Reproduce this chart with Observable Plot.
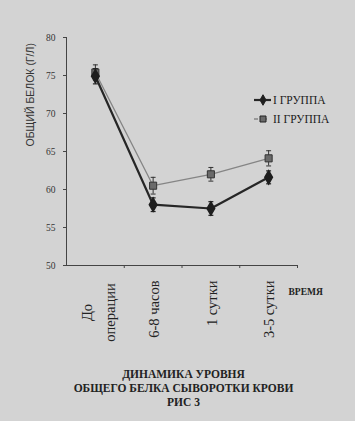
<!DOCTYPE html>
<html>
<head>
<meta charset="utf-8">
<script src="https://cdn.jsdelivr.net/npm/d3@7"></script>
<script src="https://cdn.jsdelivr.net/npm/@observablehq/plot@0.6"></script>
<style>
  html, body { margin: 0; padding: 0; }
  body { width: 355px; height: 421px; background: #d3d3d3; position: relative; overflow: hidden; }
  #chart svg { display: block; background: transparent; }
  #legend { position: absolute; left: 250px; top: 90px; }
  #caption { font-family: "Liberation Serif", serif; font-weight: bold; font-size: 11.5px; line-height: 14px; color: #222; text-align: center; margin-top: 7px; padding-left: 12px; }
</style>
</head>
<body>
<div id="chart"></div>
<div id="legend"></div>
<div id="caption"></div>
<script>
const categories = ["До\nоперации", "6-8 часов", "1 сутки", "3-5 сутки"];
const group1Name = "I ГРУППА";
const group2Name = "II ГРУППА";
const group1Values = [74.9, 58.0, 57.5, 61.6];
const group1Errors = [1.0, 0.9, 0.9, 0.85];
const group2Values = [75.4, 60.5, 62.0, 64.1];
const group2Errors = [1.0, 1.1, 0.9, 1.0];
const yTicks = [50, 55, 60, 65, 70, 75, 80];
const yLabel = "ОБЩИЙ БЕЛОК (Г/Л)";
const xLabel = "ВРЕМЯ";
const captionLines = ["ДИНАМИКА УРОВНЯ", "ОБЩЕГО БЕЛКА СЫВОРОТКИ КРОВИ", "РИС 3"];

const rows = [];
categories.forEach((c, i) => {
  rows.push({i, cat: c, group: group1Name, v: group1Values[i], e: group1Errors[i]});
});
categories.forEach((c, i) => {
  rows.push({i, cat: c, group: group2Name, v: group2Values[i], e: group2Errors[i]});
});
const g1 = rows.filter(d => d.group === group1Name);
const g2 = rows.filter(d => d.group === group2Name);
const boundaries = categories.map((_, i) => i + 0.5);
const xDomain = [-0.5, categories.length - 0.5];
const catRows = categories.map((c, i) => ({c, i}));

const capSymbol = {
  draw(context, size) {
    const w = Math.sqrt(size) / 2;
    context.moveTo(-w, 0);
    context.lineTo(w, 0);
  }
};

const serif = "Liberation Serif, serif";
const dark = "#262626";
const grey = "#858585";

const chart = Plot.plot({
  width: 355,
  height: 360,
  marginLeft: 66,
  marginRight: 58,
  marginTop: 37,
  marginBottom: 95,
  style: {background: "transparent", color: "#333"},
  x: {domain: xDomain, axis: null},
  y: {domain: [50, 80], axis: null},
  marks: [
    Plot.ruleX([xDomain[0]], {y1: yTicks[0], y2: yTicks[yTicks.length - 1], stroke: "#444", strokeWidth: 1}),
    Plot.ruleY([yTicks[0]], {x1: xDomain[0], x2: xDomain[1], stroke: "#444", strokeWidth: 1}),
    Plot.axisY({ticks: yTicks, tickSize: 3, tickPadding: 8, fontSize: 9.5, fontFamily: serif, label: null, stroke: "#444"}),
    Plot.axisX({ticks: boundaries, tickSize: 3, tickFormat: () => "", label: null, stroke: "#444"}),
    Plot.text([yLabel], {frameAnchor: "left", rotate: -90, dx: -36, dy: -5, fontSize: 10.5, fontFamily: "Liberation Sans, sans-serif", fill: "#333"}),
    Plot.text(catRows.filter(d => d.c.includes("\n")), {x: "i", y: yTicks[0], text: "c", rotate: -90, textAnchor: "middle", dy: 47, dx: 1, fontSize: 14.5, lineHeight: 1.55, fontFamily: serif, fill: "#222"}),
    Plot.text(catRows.filter(d => !d.c.includes("\n")), {x: "i", y: yTicks[0], text: "c", rotate: -90, textAnchor: "end", dy: 15, dx: 1, fontSize: 14.5, fontFamily: serif, fill: "#222"}),
    Plot.text([xLabel], {frameAnchor: "bottom-right", textAnchor: "start", dx: -9, dy: 29, fontSize: 9.5, fontWeight: "bold", fontFamily: serif, fill: "#222"}),
    // group 2 (light)
    Plot.line(g2, {x: "i", y: "v", stroke: grey, strokeWidth: 1.3}),
    Plot.ruleX(g2, {x: "i", y1: d => d.v - d.e, y2: d => d.v + d.e, stroke: "#333", strokeWidth: 1}),
    Plot.dot(g2, {x: "i", y: d => d.v + d.e, symbol: capSymbol, r: 2.8, stroke: "#333", strokeWidth: 1}),
    Plot.dot(g2, {x: "i", y: d => d.v - d.e, symbol: capSymbol, r: 2.8, stroke: "#333", strokeWidth: 1}),
    Plot.dot(g2, {x: "i", y: "v", symbol: "square", r: 4, fill: "#6a6a6a", stroke: "#333", strokeWidth: 1}),
    // group 1 (dark)
    Plot.line(g1, {x: "i", y: "v", stroke: dark, strokeWidth: 2.2}),
    Plot.ruleX(g1, {x: "i", y1: d => d.v - d.e, y2: d => d.v + d.e, stroke: "#222", strokeWidth: 1.2}),
    Plot.dot(g1, {x: "i", y: d => d.v + d.e, symbol: capSymbol, r: 2.8, stroke: "#222", strokeWidth: 1.2}),
    Plot.dot(g1, {x: "i", y: d => d.v - d.e, symbol: capSymbol, r: 2.8, stroke: "#222", strokeWidth: 1.2}),
    Plot.dot(g1, {x: "i", y: "v", symbol: "diamond", r: 4, fill: "#1e1e1e", stroke: "#1e1e1e"})
  ]
});
document.getElementById("chart").appendChild(chart);

// legend
const ns = "http://www.w3.org/2000/svg";
const lg = document.createElementNS(ns, "svg");
lg.setAttribute("width", 105);
lg.setAttribute("height", 40);
const legendItems = [
  {name: group1Name, stroke: dark, sw: 2.2, symbol: d3.symbolDiamond, fill: "#1e1e1e", dash: null, size: 32},
  {name: group2Name, stroke: grey, sw: 1.3, symbol: d3.symbolSquare, fill: "#6a6a6a", dash: "4,5", size: 36}
];
legendItems.forEach((it, k) => {
  const y = 10 + k * 19;
  const ln = document.createElementNS(ns, "line");
  ln.setAttribute("x1", 4); ln.setAttribute("x2", 21);
  ln.setAttribute("y1", y); ln.setAttribute("y2", y);
  ln.setAttribute("stroke", it.stroke); ln.setAttribute("stroke-width", it.sw);
  if (it.dash) ln.setAttribute("stroke-dasharray", it.dash);
  lg.appendChild(ln);
  const p = document.createElementNS(ns, "path");
  p.setAttribute("d", d3.symbol(it.symbol, it.size)());
  p.setAttribute("transform", `translate(13,${y})`);
  p.setAttribute("fill", it.fill); p.setAttribute("stroke", "#222");
  lg.appendChild(p);
  const t = document.createElementNS(ns, "text");
  t.setAttribute("x", 23); t.setAttribute("y", y);
  t.setAttribute("dy", "0.35em");
  t.setAttribute("font-family", "Liberation Serif, serif");
  t.setAttribute("font-size", 11.5);
  t.setAttribute("fill", "#1a1a1a");
  t.textContent = it.name;
  lg.appendChild(t);
});
document.getElementById("legend").appendChild(lg);

const cap = document.getElementById("caption");
captionLines.forEach(s => { const d = document.createElement("div"); d.textContent = s; cap.appendChild(d); });
</script>
</body>
</html>
